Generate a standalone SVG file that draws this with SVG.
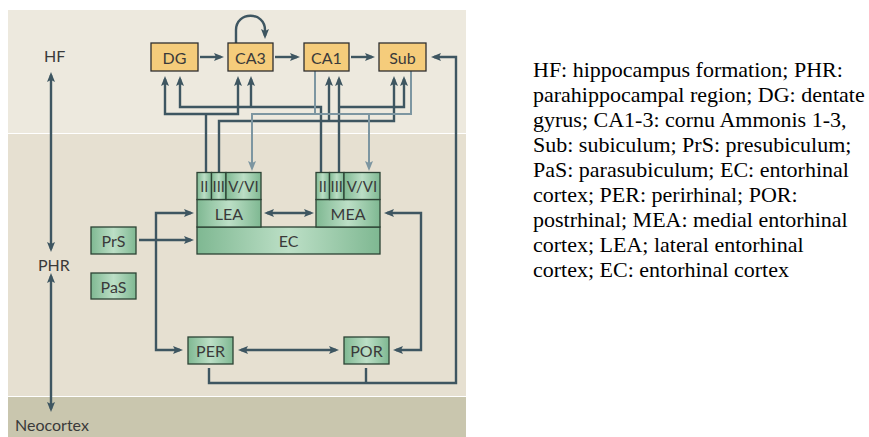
<svg xmlns="http://www.w3.org/2000/svg" width="869" height="437" viewBox="0 0 869 437">
<defs>
<style>
.lbl{font-family:Lato,"Open Sans",sans-serif;fill:#3a3a3a;text-anchor:middle;dominant-baseline:central}
.side{font-family:Lato,"Open Sans",sans-serif;fill:#3a3a3a;font-size:16px}
.y{fill:#f5cc7b;stroke:#2f2f2f;stroke-width:1.3}
.g{fill:url(#gg);stroke:#2c4234;stroke-width:1.3}
.d{fill:none;stroke:#3e5661;stroke-width:2.4}
.l{fill:none;stroke:#7d96a1;stroke-width:2}
.legend{font-family:"Liberation Serif","Times New Roman",serif;font-size:22px;fill:#000}
</style>
<linearGradient id="gg" x1="0" y1="0" x2="1" y2="0">
<stop offset="0" stop-color="#7fb892"/>
<stop offset="0.5" stop-color="#bcdfc6"/>
<stop offset="1" stop-color="#7fb892"/>
</linearGradient>
<marker id="ad" viewBox="0 0 10 10" markerUnits="userSpaceOnUse" markerWidth="10" markerHeight="10" refX="7" refY="5" orient="auto-start-reverse">
<path d="M0,1 L10,5 L0,9 L2,5 z" fill="#3e5661"/>
</marker>
<marker id="al" viewBox="0 0 10 10" markerUnits="userSpaceOnUse" markerWidth="10" markerHeight="10" refX="7" refY="5" orient="auto-start-reverse">
<path d="M0,1 L10,5 L0,9 L2,5 z" fill="#7d96a1"/>
</marker>
</defs>
<rect x="0" y="0" width="869" height="437" fill="#ffffff"/>
<g id="background">
<rect x="8" y="10" width="458" height="123" fill="#ede9de"/>
<rect x="8" y="134" width="458" height="262" fill="#e6e0d1"/>
<rect x="8" y="397" width="458" height="40" fill="#c9c6ae"/>
</g>
<g id="region-labels">
<text class="side" x="44" y="62">HF</text>
<text class="side" x="38" y="271">PHR</text>
<text class="side" x="15" y="431">Neocortex</text>
</g>
<g id="connectors">
<path class="d" d="M51,75 V249" marker-start="url(#ad)" marker-end="url(#ad)"/>
<path class="d" d="M51,276 V409" marker-start="url(#ad)" marker-end="url(#ad)"/>
<path class="d" d="M236,43 V30 C236,11 265,11 265,30 V36" marker-end="url(#ad)"/>
<path class="d" d="M200,57 H221" marker-end="url(#ad)"/>
<path class="d" d="M275,57 H297" marker-end="url(#ad)"/>
<path class="d" d="M351,57 H372" marker-end="url(#ad)"/>
<path class="d" d="M209,368 V383 H456 V57 H434" marker-end="url(#ad)"/>
<path class="d" d="M366,368 V383"/>
<path class="d" d="M165,79 V114 H238 V79" marker-start="url(#ad)" marker-end="url(#ad)"/>
<path class="d" d="M206,114 V172"/>
<path class="d" d="M180,79 V107 H321 V172" marker-start="url(#ad)"/>
<path class="d" d="M251,107 V79" marker-end="url(#ad)"/>
<path class="d" d="M219,172 V121 H394 V79" marker-end="url(#ad)"/>
<path class="d" d="M329,121 V79" marker-end="url(#ad)"/>
<path class="d" d="M339,172 V79" marker-end="url(#ad)"/>
<path class="d" d="M339,107 H404 V79" marker-end="url(#ad)"/>
<path class="l" d="M315,71 V114"/>
<path class="l" d="M411,71 V114 H252 V168" marker-end="url(#al)"/>
<path class="l" d="M369,114 V168" marker-end="url(#al)"/>
<path class="d" d="M267,213 H311" marker-start="url(#ad)" marker-end="url(#ad)"/>
<path class="d" d="M191,213 H156 V350 H180" marker-start="url(#ad)" marker-end="url(#ad)"/>
<path class="d" d="M387,213 H421 V350 H396" marker-start="url(#ad)" marker-end="url(#ad)"/>
<path class="d" d="M139,240 H191" marker-end="url(#ad)"/>
<path class="d" d="M241,350 H336" marker-start="url(#ad)" marker-end="url(#ad)"/>
</g>
<g id="DG"><rect class="y" x="151" y="43" width="47" height="28"/><text class="lbl" x="174.5" y="57" font-size="16">DG</text></g>
<g id="CA3"><rect class="y" x="228" y="43" width="45" height="28"/><text class="lbl" x="250.5" y="57" font-size="16">CA3</text></g>
<g id="CA1"><rect class="y" x="304" y="43" width="45" height="28"/><text class="lbl" x="326.5" y="57" font-size="16">CA1</text></g>
<g id="Sub"><rect class="y" x="379" y="43" width="47" height="28"/><text class="lbl" x="402.5" y="57" font-size="16">Sub</text></g>
<g id="EC"><rect class="g" x="197" y="227" width="183" height="27"/><text class="lbl" x="288.5" y="240.5" font-size="16">EC</text></g>
<g id="LEA">
<rect class="g" x="197" y="199.5" width="64" height="27.5"/><text class="lbl" x="229" y="213.5" font-size="16">LEA</text>
<rect class="g" x="197" y="172.5" width="14.5" height="27"/><text class="lbl" x="204.2" y="186" font-size="14.5">II</text>
<rect class="g" x="211.5" y="172.5" width="14.5" height="27"/><text class="lbl" x="218.7" y="186" font-size="14.5">III</text>
<rect class="g" x="226" y="172.5" width="35" height="27"/><text class="lbl" x="243.5" y="186" font-size="15">V/VI</text>
</g>
<g id="MEA">
<rect class="g" x="316" y="199.5" width="64" height="27.5"/><text class="lbl" x="348" y="213.5" font-size="16">MEA</text>
<rect class="g" x="316" y="172.5" width="13.5" height="27"/><text class="lbl" x="322.7" y="186" font-size="14.5">II</text>
<rect class="g" x="329.5" y="172.5" width="14.5" height="27"/><text class="lbl" x="336.7" y="186" font-size="14.5">III</text>
<rect class="g" x="344" y="172.5" width="36" height="27"/><text class="lbl" x="362" y="186" font-size="15">V/VI</text>
</g>
<g id="PrS"><rect class="g" x="91" y="227" width="45" height="27"/><text class="lbl" x="113.5" y="240.5" font-size="16">PrS</text></g>
<g id="PaS"><rect class="g" x="91" y="273" width="45" height="26"/><text class="lbl" x="113.5" y="286" font-size="16">PaS</text></g>
<g id="PER"><rect class="g" x="188" y="337" width="45" height="27"/><text class="lbl" x="210.5" y="350.5" font-size="16">PER</text></g>
<g id="POR"><rect class="g" x="344" y="337" width="45" height="27"/><text class="lbl" x="366.5" y="350.5" font-size="16">POR</text></g>
<g id="legend">
<text class="legend" x="533" y="77">HF: hippocampus formation; PHR:</text>
<text class="legend" x="533" y="102">parahippocampal region; DG: dentate</text>
<text class="legend" x="533" y="127">gyrus; CA1-3: cornu Ammonis 1-3,</text>
<text class="legend" x="533" y="152">Sub: subiculum; PrS: presubiculum;</text>
<text class="legend" x="533" y="177">PaS: parasubiculum; EC: entorhinal</text>
<text class="legend" x="533" y="202">cortex; PER: perirhinal; POR:</text>
<text class="legend" x="533" y="227">postrhinal; MEA: medial entorhinal</text>
<text class="legend" x="533" y="252">cortex; LEA; lateral entorhinal</text>
<text class="legend" x="533" y="277">cortex; EC: entorhinal cortex</text>
</g>
</svg>
